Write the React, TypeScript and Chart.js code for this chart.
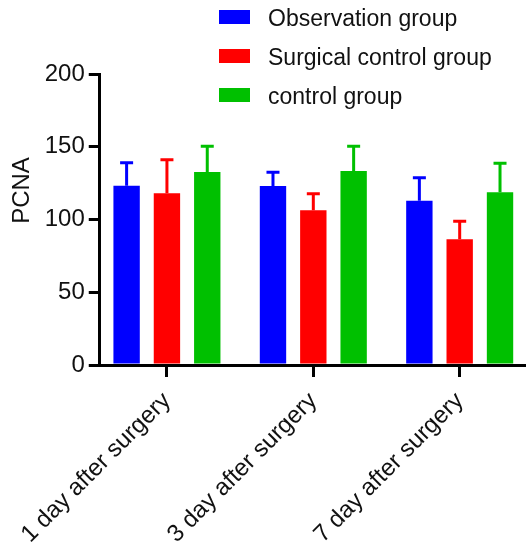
import React, { useEffect, useRef } from 'react';
import { Chart, registerables } from 'chart.js';

Chart.register(...registerables);

const categories = ['1 day after surgery', '3 day after surgery', '7 day after surgery'];
const seriesNames = ['Observation group', 'Surgical control group', 'control group'];
const observationMeans = [123.2, 123.0, 112.9];
const observationErrors = [15.8, 9.4, 15.8];
const surgicalMeans = [118.0, 106.3, 86.4];
const surgicalErrors = [23.1, 11.4, 12.4];
const controlMeans = [132.6, 133.3, 118.7];
const controlErrors = [17.7, 17.0, 19.9];
const seriesColors = ['#0000FF', '#FF0000', '#00C000'];
const yTicks = [0, 50, 100, 150, 200];
const yTitle = 'PCNA';

const FONT = '"Liberation Sans", Arial, Helvetica, sans-serif';

const errorBarPlugin = {
  id: 'errorBars',
  afterDatasetsDraw(chart: any) {
    const ctx = chart.ctx;
    const y = chart.scales.y;
    chart.data.datasets.forEach((ds: any, di: number) => {
      const meta = chart.getDatasetMeta(di);
      meta.data.forEach((bar: any, i: number) => {
        const top = y.getPixelForValue(ds.data[i] + ds.errors[i]);
        ctx.save();
        ctx.strokeStyle = ds.backgroundColor;
        ctx.lineWidth = 3;
        ctx.lineCap = 'butt';
        ctx.beginPath();
        ctx.moveTo(bar.x, bar.y);
        ctx.lineTo(bar.x, top);
        ctx.moveTo(bar.x - 6.5, top);
        ctx.lineTo(bar.x + 6.5, top);
        ctx.stroke();
        ctx.restore();
      });
    });
  },
};

const legendPlugin = {
  id: 'customLegend',
  afterDraw(chart: any) {
    const ctx = chart.ctx;
    ctx.save();
    ctx.font = `23px ${FONT}`;
    ctx.textAlign = 'left';
    ctx.textBaseline = 'alphabetic';
    chart.data.datasets.forEach((ds: any, i: number) => {
      const boxTop = 10 + i * 39;
      ctx.fillStyle = ds.backgroundColor;
      ctx.fillRect(219, boxTop, 31, 14);
      ctx.fillStyle = '#111';
      ctx.fillText(ds.label, 268, boxTop + 15.5);
    });
    // y-axis title
    ctx.translate(29, 190.5);
    ctx.rotate(-Math.PI / 2);
    ctx.font = `24px ${FONT}`;
    ctx.textAlign = 'center';
    ctx.fillStyle = '#111';
    ctx.fillText(yTitle, 0, 0);
    ctx.restore();
  },
};

export default function App() {
  const ref = useRef<HTMLCanvasElement | null>(null);

  useEffect(() => {
    if (!ref.current) return;
    const means = [observationMeans, surgicalMeans, controlMeans];
    const errs = [observationErrors, surgicalErrors, controlErrors];
    const chart = new Chart(ref.current, {
      type: 'bar',
      data: {
        labels: categories,
        datasets: seriesNames.map((name, i) => ({
          label: name,
          data: means[i],
          errors: errs[i],
          backgroundColor: seriesColors[i],
          borderWidth: 0,
          categoryPercentage: 0.8265,
          barPercentage: 0.654,
        })) as any,
      },
      options: {
        responsive: false,
        animation: false,
        devicePixelRatio: 1,
        layout: { padding: { top: 74, left: 0, right: 0, bottom: 0 } },
        plugins: {
          legend: { display: false },
          tooltip: { enabled: false },
          title: { display: false },
        },
        scales: {
          x: {
            type: 'category',
            offset: true,
            afterBuildTicks: (s: any) => {
              // Prism-style gap between the y axis and the first group
              s._startValue = -0.459;
              s._valueRange = 2.912;
            },
            grid: {
              offset: false,
              drawOnChartArea: false,
              tickLength: 12,
              lineWidth: 3,
              color: '#000',
            },
            border: { color: '#000', width: 3 },
            ticks: {
              minRotation: 45,
              maxRotation: 45,
              autoSkip: false,
              font: { family: FONT, size: 24 },
              color: '#111',
              padding: 10,
            },
            afterFit: (s: any) => {
              s.height = 178;
            },
          },
          y: {
            min: 0,
            max: 200,
            afterBuildTicks: (s: any) => {
              s.ticks = yTicks.map((v) => ({ value: v }));
            },
            grid: {
              drawOnChartArea: false,
              tickLength: 11,
              lineWidth: 3,
              color: '#000',
            },
            border: { color: '#000', width: 3 },
            ticks: {
              font: { family: FONT, size: 24 },
              color: '#111',
              padding: 4,
            },
            afterFit: (s: any) => {
              s.width = 98;
            },
          },
        },
      } as any,
      plugins: [errorBarPlugin, legendPlugin],
    });
    return () => chart.destroy();
  }, []);

  return (
    <div
      style={{
        position: 'absolute',
        left: 0,
        top: 0,
        width: 526,
        height: 543,
        overflow: 'hidden',
        background: '#fff',
      }}
    >
      <canvas
        ref={ref}
        width={526}
        height={543}
        style={{ display: 'block', width: 526, height: 543 }}
      />
    </div>
  );
}
